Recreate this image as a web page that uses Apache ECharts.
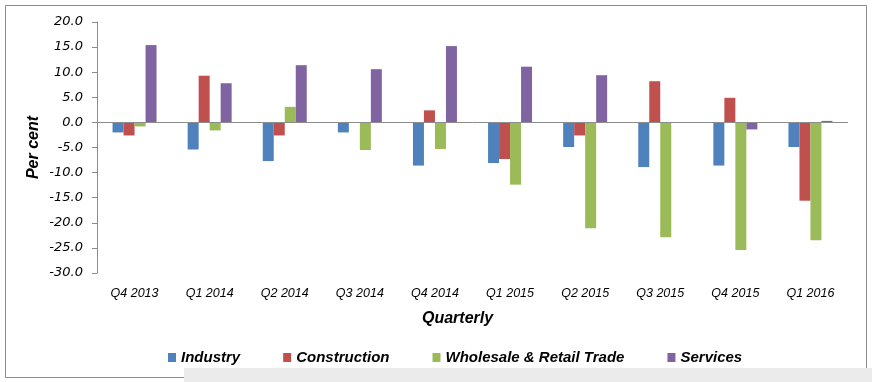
<!DOCTYPE html>
<html><head><meta charset="utf-8">
<script src="https://cdn.jsdelivr.net/npm/echarts@6/dist/echarts.min.js"></script>
<style>html,body{margin:0;padding:0;background:#fff}#c{width:872px;height:382px}</style>
</head><body><div id="c"></div>
<script>
const categories = ['Q4 2013','Q1 2014','Q2 2014','Q3 2014','Q4 2014','Q1 2015','Q2 2015','Q3 2015','Q4 2015','Q1 2016'];
const industry = [-2.0, -5.4, -7.7, -2.0, -8.6, -8.1, -4.9, -8.9, -8.6, -4.9];
const construction = [-2.6, 9.3, -2.6, 0.0, 2.4, -7.3, -2.6, 8.2, 4.9, -15.6];
const wholesale = [-0.8, -1.6, 3.1, -5.5, -5.3, -12.4, -21.1, -22.9, -25.4, -23.5];
const services = [15.4, 7.8, 11.4, 10.6, 15.2, 11.1, 9.4, -0.1, -1.4, 0.3];
const seriesNames = ['Industry','Construction','Wholesale & Retail Trade','Services'];
const colors = ['#4F81BD','#C0504D','#9BBB59','#8064A2'];
const yMin = -30, yMax = 20, yStep = 5;

const chart = echarts.init(document.getElementById('c'));
const dataSets = [industry, construction, wholesale, services];
const series = dataSets.map((d, i) => ({
  name: seriesNames[i], type: 'bar', data: d, barWidth: 11, barGap: '0%',
  itemStyle: { color: colors[i] },
  markLine: i === 0 ? { silent: true, symbol: 'none', label: { show: false },
    lineStyle: { color: '#8c8c8c', width: 1, type: 'solid' }, data: [{ yAxis: 0 }] } : undefined
}));
chart.setOption({
  animation: false,
  graphic: [
    { type: 'rect', shape: { x: 5.5, y: 5.5, width: 861, height: 372 }, style: { fill: 'none', stroke: '#8c8c8c', lineWidth: 1 }, z: 0 },
    { type: 'rect', shape: { x: 184, y: 368, width: 688, height: 14 }, style: { fill: '#ebebeb' }, z: 1 },
    { type: 'text', left: 422, top: 311, style: { text: 'Quarterly', font: 'italic bold 16px "Liberation Sans"', fill: '#000' } },
    { type: 'text', x: 34, y: 147.5, rotation: Math.PI / 2,
      style: { text: 'Per cent', font: 'italic bold 16px "Liberation Sans"', fill: '#000', align: 'center', verticalAlign: 'middle' } }
  ],
  grid: { left: 97, right: 24, top: 22, bottom: 109 },
  legend: {
    left: 163, top: 345, itemWidth: 8, itemHeight: 9, itemGap: 43, icon: 'rect',
    textStyle: { fontFamily: 'Liberation Sans', fontSize: 15, fontWeight: 'bold', fontStyle: 'italic', color: '#000' },
    data: seriesNames
  },
  xAxis: {
    type: 'category', data: categories,
    axisLine: { show: false, onZero: false }, axisTick: { show: false },
    axisLabel: { margin: 14, fontFamily: 'Liberation Sans', fontSize: 12.5, fontStyle: 'italic', color: '#000' }
  },
  yAxis: {
    type: 'value', min: yMin, max: yMax, interval: yStep,
    axisLine: { show: true, lineStyle: { color: '#8c8c8c' } },
    axisTick: { show: true, length: 5, lineStyle: { color: '#8c8c8c' } },
    splitLine: { show: false },
    axisLabel: { margin: 14, fontFamily: 'DejaVu Sans', fontSize: 13, fontStyle: 'italic', color: '#000', formatter: v => v.toFixed(1) }
  },
  series: series
});
</script></body></html>
